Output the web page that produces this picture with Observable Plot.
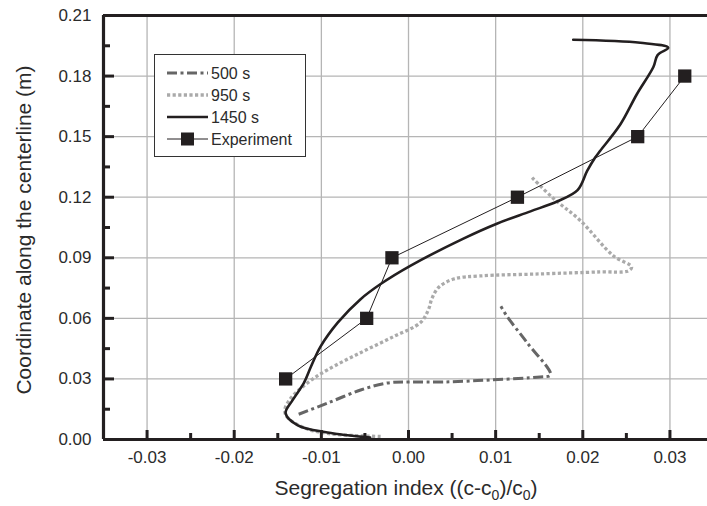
<!DOCTYPE html>
<html>
<head>
<meta charset="utf-8">
<script src="https://cdn.jsdelivr.net/npm/d3@7"></script>
<script src="https://cdn.jsdelivr.net/npm/@observablehq/plot@0.6"></script>
<style>
  html, body { margin: 0; padding: 0; background: #fff; }
  svg { display: block; }
</style>
</head>
<body>
<div id="chart"></div>
<script>
// ---- data ----
const s500X = [-0.0126, -0.0093, -0.0055, -0.0024, 0.0002, 0.0040, 0.0094, 0.0151, 0.0163, 0.0136, 0.0113, 0.0106];
const s500Y = [0.0125, 0.018, 0.0245, 0.028, 0.0285, 0.0285, 0.0295, 0.031, 0.032, 0.048, 0.061, 0.066];

const s950X = [-0.0032, -0.0093, -0.0121, -0.0139, -0.0142, -0.0135, -0.0116, -0.0093, -0.0055, -0.0017, 0.0014, 0.0023, 0.0027, 0.0035, 0.0052, 0.0082, 0.0150, 0.0220, 0.0252, 0.0256, 0.0235, 0.0197, 0.0166, 0.0140];
const s950Y = [0.0015, 0.003, 0.006, 0.011, 0.0145, 0.0205, 0.028, 0.0345, 0.043, 0.051, 0.058, 0.0645, 0.070, 0.0755, 0.0795, 0.081, 0.082, 0.083, 0.0835, 0.0855, 0.091, 0.1085, 0.1195, 0.1305];

const s1450X = [-0.0044, -0.0093, -0.0127, -0.0141, -0.0133, -0.0120, -0.0112, -0.0101, -0.0081, -0.0055, -0.0032, 0.0002, 0.0063, 0.0102, 0.0140, 0.0171, 0.0194, 0.0205, 0.0214, 0.0220, 0.0243, 0.0262, 0.0281, 0.0286, 0.0298, 0.0266, 0.0189];
const s1450Y = [0.001, 0.0035, 0.007, 0.013, 0.0195, 0.028, 0.036, 0.046, 0.058, 0.0695, 0.077, 0.086, 0.0995, 0.107, 0.113, 0.118, 0.1235, 0.133, 0.1395, 0.143, 0.156, 0.171, 0.1845, 0.1905, 0.194, 0.1965, 0.198];

const expX = [-0.0141, -0.0048, -0.0019, 0.0125, 0.0263, 0.0317];
const expY = [0.03, 0.06, 0.09, 0.12, 0.15, 0.18];

const xMajor = [-0.03, -0.02, -0.01, 0, 0.01, 0.02, 0.03];
const xMinor = [-0.025, -0.015, -0.005, 0.005, 0.015, 0.025];
const yMajor = [0, 0.03, 0.06, 0.09, 0.12, 0.15, 0.18, 0.21];
const yMinor = [0.015, 0.045, 0.075, 0.105, 0.135, 0.165, 0.195];

const seriesNames = ["500 s", "950 s", "1450 s", "Experiment"];
const xTitle = ["Segregation index ((c-c", "0", ")/c", "0", ")"];
const yTitle = "Coordinate along the centerline (m)";

// ---- build ----
const zip = (xs, ys) => xs.map((x, i) => ({x, y: ys[i]}));
const d500 = zip(s500X, s500Y), d950 = zip(s950X, s950Y), d1450 = zip(s1450X, s1450Y), dExp = zip(expX, expY);

const W = 707, H = 506, mL = 103, mR = 0, mT = 15, mB = 67;
const plotW = W - mL - mR, plotH = H - mT - mB;
const textColor = "#2b2b2b";
const frameColor = "#231f20";
const c500 = "#666666", c950 = "#aaaaaa";
const dash500 = "10,3.5,3,3.5", dash950 = "3.2,2.4";

const chart = Plot.plot({
  width: W, height: H,
  marginLeft: mL, marginRight: mR, marginTop: mT, marginBottom: mB,
  style: {fontFamily: "'Liberation Sans', Arial, sans-serif", background: "#fff"},
  x: {domain: [-0.035, 0.03431]},
  y: {domain: [0, 0.21]},
  marks: [
    // grid
    Plot.ruleX(xMajor, {stroke: "#b5b5b5", strokeWidth: 1.3}),
    Plot.ruleY(yMajor.slice(1, -1), {stroke: "#b5b5b5", strokeWidth: 1.3}),
    // curves
    Plot.line(d500, {x: "x", y: "y", stroke: c500, strokeWidth: 3, strokeDasharray: dash500, strokeLinecap: "butt", curve: "catmull-rom"}),
    Plot.line(d950, {x: "x", y: "y", stroke: c950, strokeWidth: 3.3, strokeDasharray: dash950, strokeLinecap: "butt", curve: "catmull-rom"}),
    Plot.line(d1450, {x: "x", y: "y", stroke: frameColor, strokeWidth: 2.6, curve: "catmull-rom"}),
    Plot.line(dExp, {x: "x", y: "y", stroke: frameColor, strokeWidth: 1}),
    Plot.dot(dExp, {x: "x", y: "y", symbol: "square", r: 7.5, fill: frameColor, stroke: "none"}),
    // frame
    Plot.ruleY([0.21], {stroke: frameColor, strokeWidth: 3.2}),
    Plot.ruleY([0], {stroke: frameColor, strokeWidth: 3.2}),
    Plot.ruleX([-0.035], {stroke: frameColor, strokeWidth: 3.2}),
    // inward ticks
    Plot.ruleY(yMajor, {insetRight: plotW - 11, stroke: frameColor, strokeWidth: 3}),
    Plot.ruleY(yMinor, {insetRight: plotW - 7, stroke: frameColor, strokeWidth: 3}),
    Plot.ruleX(xMajor, {insetTop: plotH - 9, stroke: frameColor, strokeWidth: 3}),
    Plot.ruleX(xMinor, {insetTop: plotH - 6, stroke: frameColor, strokeWidth: 3}),
    // tick labels
    Plot.axisY(yMajor, {tickSize: 0, tickPadding: 12, tickFormat: d => d.toFixed(2), fontSize: 17, fill: textColor, label: null}),
    Plot.axisX(xMajor, {tickSize: 0, tickPadding: 11, tickFormat: d => d.toFixed(2), fontSize: 17, fill: textColor, label: null})
  ]
});

document.getElementById("chart").appendChild(chart);

const svg = d3.select(chart);

// ---- titles & legend ----
const xs = chart.scale("x");

const xt = svg.append("text")
  .attr("x", xs.apply(0) - 2).attr("y", 495)
  .attr("text-anchor", "middle")
  .attr("font-size", 21).attr("fill", textColor)
  .attr("font-family", "'Liberation Sans', Arial, sans-serif");
xTitle.forEach((t, i) => {
  const sp = xt.append("tspan").text(t);
  if (i % 2 === 1) sp.attr("font-size", 14).attr("dy", 5);
  else if (i > 0) sp.attr("dy", -5);
});

svg.append("text")
  .attr("transform", `translate(31, ${(mT + H - mB) / 2 + 3}) rotate(-90)`)
  .attr("text-anchor", "middle")
  .attr("font-size", 21).attr("fill", textColor)
  .attr("font-family", "'Liberation Sans', Arial, sans-serif")
  .text(yTitle);

// legend
const lg = svg.append("g").attr("font-family", "'Liberation Sans', Arial, sans-serif").attr("text-anchor", "start");
lg.append("rect").attr("x", 154.5).attr("y", 54.5).attr("width", 151).attr("height", 102)
  .attr("fill", "#fff").attr("stroke", "#333").attr("stroke-width", 1);
const rows = [73, 95, 117, 139];
const styles = [
  {stroke: c500, w: 3, dash: dash500},
  {stroke: c950, w: 3.3, dash: dash950},
  {stroke: frameColor, w: 2.6, dash: null},
  {stroke: frameColor, w: 1, dash: null}
];
seriesNames.forEach((name, i) => {
  const y = rows[i];
  const ln = lg.append("line").attr("x1", 167).attr("x2", 208).attr("y1", y).attr("y2", y)
    .attr("stroke", styles[i].stroke).attr("stroke-width", styles[i].w);
  if (styles[i].dash) ln.attr("stroke-dasharray", styles[i].dash);
  if (i === 3) lg.append("rect").attr("x", 181).attr("y", y - 6.5).attr("width", 13).attr("height", 13).attr("fill", frameColor);
  lg.append("text").attr("x", 211).attr("y", y + 5.5).attr("font-size", 16).attr("fill", textColor).attr("text-anchor", "start").text(name);
});
</script>
</body>
</html>
